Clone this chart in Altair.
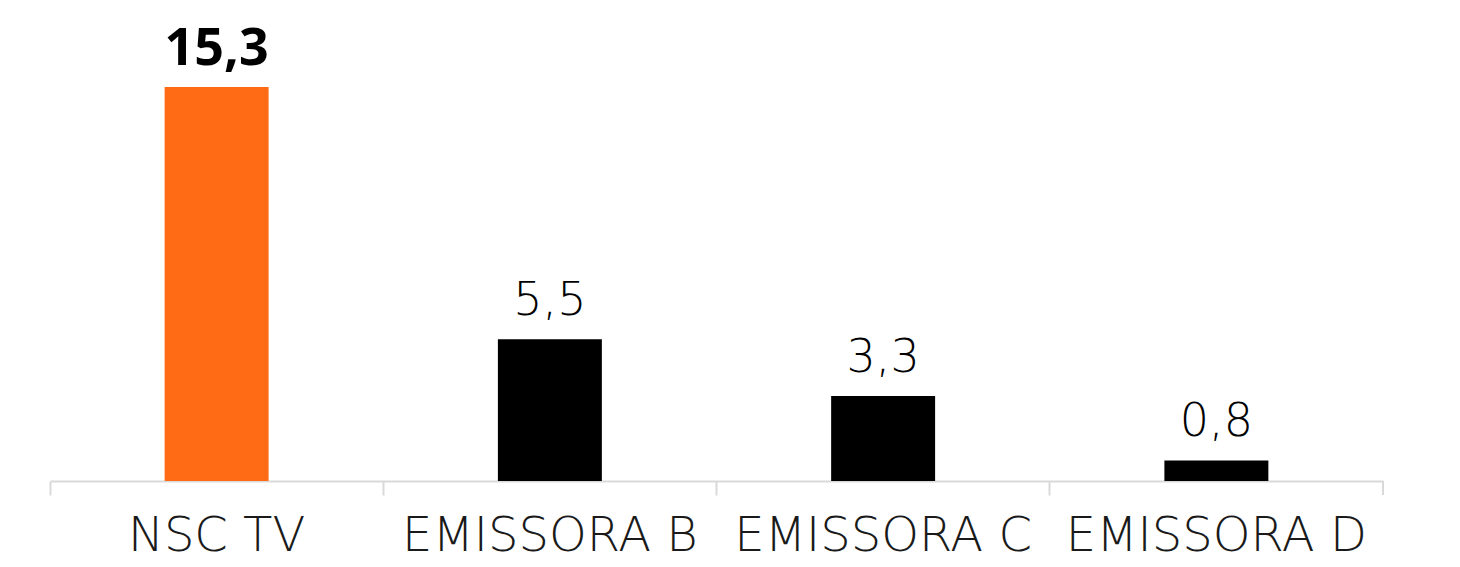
import altair as alt
import pandas as pd

categories = ["NSC TV", "EMISSORA B", "EMISSORA C", "EMISSORA D"]
values = [15.3, 5.5, 3.3, 0.8]
colors = ["#FF6A14", "#000000", "#000000", "#000000"]
highlight = [True, False, False, False]

df = pd.DataFrame({"cat": categories, "v": values, "color": colors, "hl": highlight})

W, H = 1333, 461
FONT = "DejaVu Sans"

x = alt.X("cat:N", sort=categories, title=None,
          scale=alt.Scale(paddingInner=0, paddingOuter=0),
          axis=alt.Axis(labelAngle=0, labelFont=FONT, labelFontSize=48, labelFontWeight=200,
                        labelColor="#1a1a1a", labelPadding=17, labelLimit=0, tickSize=14, tickWidth=2,
                        tickColor="#d9d9d9", domainColor="#d9d9d9", domainWidth=2,
                        bandPosition=0, grid=False))
y = alt.Y("v:Q", title=None, scale=alt.Scale(domain=[0, 17.9], nice=False, zero=True), axis=None)

base = alt.Chart(df).encode(x=x, y=y)

bars = base.mark_bar(width=alt.RelativeBandSize(0.312)).encode(
    color=alt.Color("color:N", scale=None))

lab = base.transform_calculate(t="replace(format(datum.v, '.1f'), '.', ',')")
text_hl = lab.transform_filter("datum.hl").mark_text(
    font="Open Sans", fontSize=52, fontWeight="bold", baseline="alphabetic", dy=-22, color="#000"
).encode(text="t:N")
text_n = lab.transform_filter("!datum.hl").mark_text(
    font=FONT, fontSize=46, fontWeight=200, baseline="alphabetic", dy=-24, color="#000"
).encode(text="t:N")

end_tick = alt.Chart(df.head(1)).mark_rule(color="#d9d9d9", strokeWidth=2).encode(
    x=alt.value(W), y=alt.value(H), y2=alt.value(H + 14))

chart = alt.layer(bars, text_hl, text_n, end_tick).properties(
    width=W, height=H, autosize="none", background="white",
    padding={"left": 42, "top": 12, "right": 60, "bottom": 80}
).configure_view(stroke=None)

chart.save("out.html", embed_options={"renderer": "svg", "actions": False})
